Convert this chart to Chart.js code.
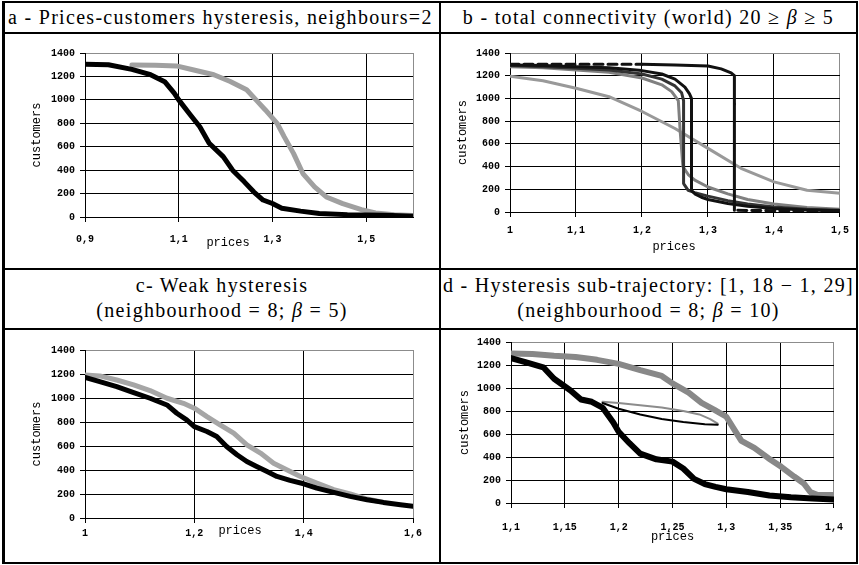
<!DOCTYPE html>
<html>
<head>
<meta charset="utf-8">
<script src="https://cdn.jsdelivr.net/npm/chart.js@4.4.0/dist/chart.umd.min.js"></script>
<style>
  body { margin:0; background:#fff; width:859px; height:565px; position:relative; overflow:hidden; font-family:"Liberation Serif", serif; }
  .ln { position:absolute; background:#000; }
  .hd { position:absolute; font-size:20px; letter-spacing:1.3px; white-space:nowrap; color:#000; line-height:24px; }
  canvas { position:absolute; }
</style>
</head>
<body>
<!-- table frame -->
<div class="ln" style="left:2px;top:1px;width:856px;height:2px"></div>
<div class="ln" style="left:2px;top:32px;width:856px;height:2px"></div>
<div class="ln" style="left:2px;top:268px;width:856px;height:2px"></div>
<div class="ln" style="left:2px;top:328px;width:856px;height:2px"></div>
<div class="ln" style="left:2px;top:562px;width:856px;height:2px"></div>
<div class="ln" style="left:2px;top:1px;width:3px;height:563px"></div>
<div class="ln" style="left:439px;top:1px;width:2px;height:563px"></div>
<div class="ln" style="left:856px;top:1px;width:2px;height:563px"></div>

<div class="hd" style="left:8px;top:5px">a - Prices-customers hysteresis, neighbours=2</div>
<div class="hd" style="left:441px;top:5px;width:415px;text-align:center">b - total connectivity (world) 20 &ge; <i>&beta;</i> &ge; 5</div>
<div class="hd" style="left:5px;top:273px;width:434px;text-align:center">c- Weak hysteresis</div>
<div class="hd" style="left:5px;top:298px;width:434px;text-align:center">(neighbourhood = 8; <i>&beta;</i> = 5)</div>
<div class="hd" style="left:441px;top:273px;width:415px;text-align:center">d - Hysteresis sub-trajectory: [1, 18 &minus; 1, 29]</div>
<div class="hd" style="left:441px;top:298px;width:415px;text-align:center">(neighbourhood = 8; <i>&beta;</i> = 10)</div>

<canvas id="ca" width="434" height="234" style="left:5px;top:34px"></canvas>
<canvas id="cb" width="415" height="234" style="left:441px;top:34px"></canvas>
<canvas id="cc" width="434" height="232" style="left:5px;top:330px"></canvas>
<canvas id="cd" width="415" height="232" style="left:441px;top:330px"></canvas>

<script>
// shared y axis
const yTicks = [0, 200, 400, 600, 800, 1000, 1200, 1400];

// a - neighbours=2
const aTicks = [0.9, 1.1, 1.3, 1.5];
const aBlackX = [0.9, 0.95, 1.0, 1.04, 1.07, 1.09, 1.1, 1.125, 1.145, 1.165, 1.195, 1.215, 1.24, 1.26, 1.28, 1.3, 1.32, 1.36, 1.4, 1.46, 1.54, 1.6];
const aBlackY = [1305, 1300, 1260, 1215, 1155, 1060, 1000, 870, 770, 630, 515, 400, 300, 215, 145, 115, 75, 50, 30, 20, 14, 6];
const aGreyX = [1.0, 1.05, 1.095, 1.13, 1.175, 1.21, 1.245, 1.265, 1.285, 1.31, 1.325, 1.345, 1.365, 1.39, 1.415, 1.45, 1.49, 1.52, 1.56, 1.6];
const aGreyY = [1298, 1295, 1290, 1257, 1214, 1157, 1086, 1000, 914, 800, 686, 543, 371, 257, 171, 114, 63, 34, 20, 12];

// b - total connectivity
const bTicks = [1, 1.1, 1.2, 1.3, 1.4, 1.5];
const bTopX = [1.0, 1.1, 1.2, 1.25, 1.3, 1.32, 1.335, 1.34, 1.34, 1.34, 1.4, 1.5];
const bTopY = [1300, 1300, 1300, 1295, 1285, 1260, 1225, 1200, 950, 15, 12, 10];
const bBlack1X = [1.0, 1.05, 1.1, 1.15, 1.2, 1.23, 1.25, 1.265, 1.272, 1.275, 1.275, 1.28, 1.29, 1.3, 1.33, 1.36, 1.4, 1.45, 1.5];
const bBlack1Y = [1295, 1290, 1280, 1270, 1245, 1215, 1170, 1100, 1040, 1000, 190, 160, 130, 110, 75, 50, 30, 18, 12];
const bBlack2X = [1.0, 1.05, 1.1, 1.15, 1.2, 1.23, 1.25, 1.26, 1.263, 1.263, 1.27, 1.28, 1.3, 1.33, 1.36, 1.4, 1.45, 1.5];
const bBlack2Y = [1290, 1280, 1265, 1250, 1215, 1170, 1110, 1050, 980, 250, 190, 170, 140, 100, 70, 45, 25, 15];
const bGrey1X = [1.0, 1.05, 1.1, 1.15, 1.2, 1.23, 1.245, 1.255, 1.258, 1.262, 1.27, 1.28, 1.3, 1.33, 1.36, 1.4, 1.45, 1.5];
const bGrey1Y = [1280, 1270, 1250, 1230, 1180, 1120, 1060, 980, 700, 400, 330, 280, 220, 160, 110, 70, 40, 25];
const bGrey2X = [1.0, 1.05, 1.1, 1.15, 1.2, 1.25, 1.3, 1.35, 1.4, 1.45, 1.5];
const bGrey2Y = [1195, 1155, 1090, 1015, 885, 735, 560, 385, 265, 192, 165];

// c - weak hysteresis
const cTicks = [1, 1.2, 1.4, 1.6];
const cBlackX = [1.0, 1.027, 1.058, 1.089, 1.119, 1.15, 1.168, 1.186, 1.2, 1.223, 1.241, 1.259, 1.278, 1.296, 1.314, 1.333, 1.351, 1.375, 1.4, 1.424, 1.455, 1.485, 1.516, 1.546, 1.577, 1.6];
const cBlackY = [1172, 1136, 1095, 1045, 998, 942, 873, 818, 762, 721, 679, 596, 527, 471, 430, 388, 346, 313, 285, 249, 213, 180, 152, 130, 111, 97];
const cGreyX = [1.0, 1.027, 1.058, 1.089, 1.119, 1.15, 1.18, 1.2, 1.223, 1.247, 1.272, 1.296, 1.321, 1.345, 1.369, 1.394, 1.424, 1.455, 1.485, 1.516, 1.546];
const cGreyY = [1192, 1184, 1150, 1109, 1062, 998, 956, 915, 845, 776, 707, 610, 541, 457, 402, 346, 291, 236, 200, 158, 130];

// d - sub-trajectory
const dTicks = [1.1, 1.15, 1.2, 1.25, 1.3, 1.35, 1.4];
const dBlackX = [1.1, 1.115, 1.13, 1.14, 1.155, 1.165, 1.175, 1.185, 1.195, 1.2, 1.21, 1.22, 1.235, 1.25, 1.26, 1.27, 1.28, 1.29, 1.3, 1.32, 1.34, 1.36, 1.38, 1.4];
const dBlackY = [1260, 1220, 1180, 1080, 980, 900, 880, 830, 700, 620, 520, 430, 380, 360, 300, 210, 165, 140, 120, 95, 65, 50, 40, 30];
const dGreyX = [1.1, 1.12, 1.14, 1.16, 1.18, 1.2, 1.22, 1.24, 1.25, 1.265, 1.277, 1.289, 1.3, 1.308, 1.314, 1.326, 1.339, 1.351, 1.363, 1.372, 1.378, 1.385, 1.4];
const dGreyY = [1300, 1295, 1280, 1270, 1245, 1210, 1155, 1105, 1040, 960, 870, 810, 750, 630, 540, 480, 390, 315, 230, 170, 95, 70, 70];
const dThinBlackX = [1.185, 1.2, 1.22, 1.24, 1.26, 1.28, 1.292];
const dThinBlackY = [870, 820, 770, 730, 705, 685, 680];
const dThinGreyX = [1.185, 1.2, 1.22, 1.24, 1.26, 1.275, 1.285, 1.292];
const dThinGreyY = [880, 870, 850, 830, 800, 770, 730, 690];

function pts(xs, ys) {
  return xs.map((x, i) => ({x: x, y: ys[i]}));
}

function line(xs, ys, color, width, extra) {
  return Object.assign({
    data: pts(xs, ys),
    borderColor: color,
    borderWidth: width,
    pointRadius: 0,
    tension: 0,
    fill: false,
    borderJoinStyle: 'round',
    borderCapStyle: 'round'
  }, extra || {});
}

const tickFont = {family: 'Liberation Mono', size: 10, weight: 'bold'};

function comma(v) {
  return String(v).replace('.', ',');
}

// axis titles sit where the original spreadsheet put them, not where Chart.js would
const axisTitles = {
  id: 'axisTitles',
  afterDraw(chart, args, o) {
    const ctx = chart.ctx, area = chart.chartArea;
    ctx.save();
    ctx.font = '12px "Liberation Mono"';
    ctx.fillStyle = '#000';
    ctx.textAlign = 'center';
    ctx.textBaseline = 'middle';
    ctx.fillText('prices', (area.left + area.right) / 2 + o.dx, area.bottom + o.dy);
    ctx.translate(o.yx, (area.top + area.bottom) / 2);
    ctx.rotate(-Math.PI / 2);
    ctx.fillText('customers', 0, 0);
    ctx.restore();
  }
};

function makeChart(id, xMin, xMax, xTicks, datasets, box) {
  const allX = xTicks[xTicks.length - 1] === xMax ? xTicks.slice() : xTicks.concat([xMax]);
  return new Chart(document.getElementById(id), {
    type: 'line',
    data: {datasets: datasets},
    plugins: [axisTitles],
    options: {
      responsive: false,
      animation: false,
      devicePixelRatio: 1,
      layout: {padding: {left: 0, top: box.top, right: box.right, bottom: 0}},
      plugins: {
        legend: {display: false},
        tooltip: {enabled: false},
        axisTitles: {dx: box.dx, dy: box.dy, yx: box.yx}
      },
      scales: {
        x: {
          type: 'linear',
          min: xMin,
          max: xMax,
          afterBuildTicks: s => { s.ticks = allX.map(v => ({value: v})); },
          afterFit: s => { s.height = box.xh; },
          grid: {
            color: c => (c.tick && c.tick.value === xMax) ? '#8c8c8c' : '#000',
            tickColor: c => (c.tick && xTicks.indexOf(c.tick.value) < 0) ? 'rgba(0,0,0,0)' : '#000',
            tickLength: 5,
            lineWidth: 1
          },
          border: {color: '#000', width: 1},
          ticks: {
            font: tickFont, color: '#000', padding: box.xpad,
            maxRotation: 0, autoSkip: false,
            callback: v => xTicks.indexOf(v) < 0 ? '' : comma(v)
          }
        },
        y: {
          min: 0,
          max: 1400,
          afterBuildTicks: s => { s.ticks = yTicks.map(v => ({value: v})); },
          afterFit: s => { s.width = box.yw; },
          grid: {
            color: c => (c.tick && c.tick.value === 1400) ? '#8c8c8c' : '#000',
            tickColor: '#000',
            tickLength: 5,
            lineWidth: 1
          },
          border: {color: '#000', width: 1},
          ticks: {font: tickFont, color: '#000', padding: 5, callback: v => String(v)}
        }
      }
    }
  });
}

document.addEventListener("DOMContentLoaded", function() {
  makeChart('ca', 0.9, 1.6, aTicks, [
    line(aBlackX, aBlackY, '#000', 5),
    line(aGreyX, aGreyY, '#a0a0a0', 5)
  ], {yw: 80, xh: 51, top: 19, right: 26, xpad: 11, dx: -21, dy: 26, yx: 32});

  makeChart('cb', 1, 1.5, bTicks, [
    line(bTopX, bTopY, '#111', 3, {
      segment: {borderDash: s => (s.p0.parsed.x < 1.2 || s.p0.parsed.y <= 950) ? [9, 5] : undefined}
    }),
    line(bBlack1X, bBlack1Y, '#111', 3),
    line(bBlack2X, bBlack2Y, '#333', 3),
    line(bGrey1X, bGrey1Y, '#808080', 3),
    line(bGrey2X, bGrey2Y, '#999', 3)
  ], {yw: 69, xh: 56, top: 19, right: 13, xpad: 7, dx: -1, dy: 35, yx: 22});

  makeChart('cc', 1, 1.6, cTicks, [
    line(cBlackX, cBlackY, '#000', 5),
    line(cGreyX, cGreyY, '#a6a6a6', 5)
  ], {yw: 80, xh: 44, top: 20, right: 26, xpad: 4, dx: -9, dy: 13, yx: 32});

  makeChart('cd', 1.1, 1.4, dTicks, [
    line(dBlackX, dBlackY, '#000', 6),
    line(dThinBlackX, dThinBlackY, '#000', 2),
    line(dThinGreyX, dThinGreyY, '#8c8c8c', 2),
    line(dGreyX, dGreyY, '#888', 6)
  ], {yw: 70, xh: 59, top: 12, right: 19, xpad: 13, dx: 0, dy: 34, yx: 24});
});
</script>
</body>
</html>
